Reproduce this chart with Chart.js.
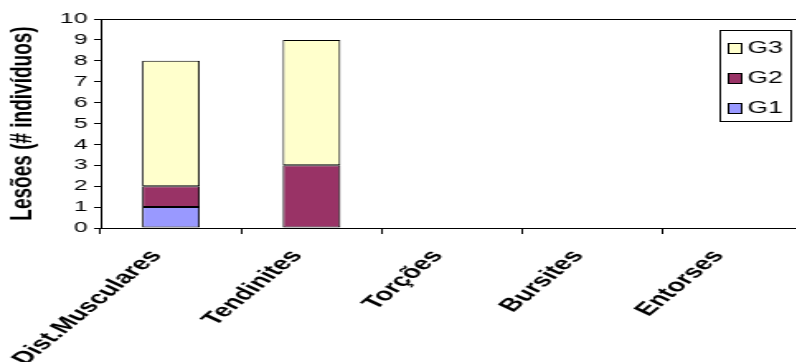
<!DOCTYPE html>
<html>
<head>
<meta charset="utf-8">
<script src="https://cdn.jsdelivr.net/npm/chart.js@4.4.0/dist/chart.umd.min.js"></script>
<style>
  html, body { margin: 0; padding: 0; background: #fff; overflow: hidden; }
  /* the original picture is an Excel chart stretched sideways, so draw narrow and stretch */
  #wrap { width: 491px; height: 362px; transform: scaleX(1.65); transform-origin: 0 0; }
</style>
</head>
<body>
<div id="wrap"><canvas id="myChart" width="491" height="362"></canvas></div>
<script>
    // data
    var categories = ['Dist.Musculares', 'Tendinites', 'Torções', 'Bursites', 'Entorses'];
    var g1Values = [1, 0, 0, 0, 0];
    var g2Values = [1, 3, 0, 0, 0];
    var g3Values = [6, 6, 0, 0, 0];
    var seriesNames = ['G1', 'G2', 'G3'];
    var seriesColors = ['#9999FF', '#993366', '#FFFFCC'];
    var axisTitle = 'Lesões (# indivíduos)';

    Chart.defaults.font.family = "'Liberation Sans', Arial, sans-serif";
    Chart.defaults.color = '#000';

    // Legend box drawn inside the plot, like the original
    var boxLegend = {
        id: 'boxLegend',
        afterDraw: function (chart) {
            var c = chart.ctx;
            var x = 436, y = 30, w = 43, h = 91;
            c.save();
            c.fillStyle = '#fff';
            c.fillRect(x, y, w, h);
            c.strokeStyle = '#000';
            c.lineWidth = 1;
            c.strokeRect(x + 0.5, y + 0.5, w, h);
            c.font = "16px 'Liberation Sans', Arial, sans-serif";
            c.textBaseline = 'middle';
            var sets = chart.data.datasets;
            for (var i = sets.length - 1; i >= 0; i--) {
                var row = sets.length - 1 - i;
                var cy = y + 18 + row * 30;
                c.fillStyle = sets[i].backgroundColor;
                c.fillRect(441, cy - 5, 9, 10);
                c.strokeRect(441.5, cy - 4.5, 8, 10);
                c.fillStyle = '#000';
                c.fillText(sets[i].label, 453, cy + 1);
            }
            c.restore();
        }
    };

    const ctx = document.getElementById('myChart');
    new Chart(ctx, {
        type: 'bar',
        data: {
            labels: categories,
            datasets: [
                { label: seriesNames[0], data: g1Values, backgroundColor: seriesColors[0] },
                { label: seriesNames[1], data: g2Values, backgroundColor: seriesColors[1] },
                { label: seriesNames[2], data: g3Values, backgroundColor: seriesColors[2] }
            ]
        },
        options: {
            responsive: false,
            animation: false,
            layout: { padding: { top: 19, right: 4, left: 0, bottom: 0 } },
            datasets: {
                bar: {
                    borderColor: '#000',
                    borderWidth: 1,
                    borderSkipped: false,
                    categoryPercentage: 1,
                    barPercentage: 0.41
                }
            },
            plugins: {
                legend: { display: false },
                tooltip: { enabled: false }
            },
            scales: {
                x: {
                    stacked: true,
                    afterFit: function (s) { s.height = 134; },
                    grid: {
                        offset: true,
                        drawOnChartArea: false,
                        tickLength: 6,
                        tickColor: '#000'
                    },
                    border: { color: '#000', width: 1 },
                    ticks: {
                        minRotation: 53,
                        maxRotation: 53,
                        padding: 12,
                        labelOffset: -9,
                        font: { size: 18, weight: 'bold' }
                    }
                },
                y: {
                    stacked: true,
                    min: 0,
                    max: 10,
                    afterFit: function (s) { s.width = 61; },
                    grid: {
                        color: function (c) { return c.tick && c.tick.value === 10 ? '#000' : 'rgba(0,0,0,0)'; },
                        tickColor: '#000',
                        tickLength: 4
                    },
                    border: { color: '#000', width: 1 },
                    ticks: {
                        stepSize: 1,
                        autoSkip: false,
                        padding: 4,
                        font: { size: 15 }
                    },
                    title: {
                        display: true,
                        text: axisTitle,
                        font: { size: 19, weight: 'bold' },
                        padding: { top: 2, bottom: 0 }
                    }
                }
            }
        },
        plugins: [boxLegend]
    });
</script>
</body>
</html>
